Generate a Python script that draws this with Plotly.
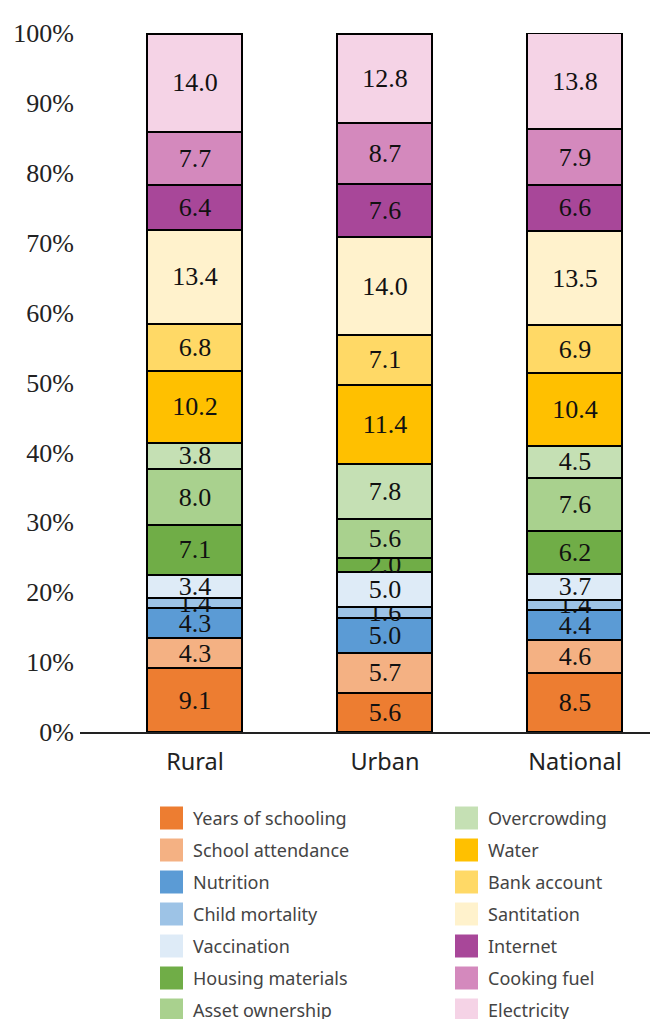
import plotly.graph_objects as go

areas = ['Rural', 'Urban', 'National']

indicators = ['Years of schooling', 'School attendance', 'Nutrition', 'Child mortality',
              'Vaccination', 'Housing materials', 'Asset ownership', 'Overcrowding',
              'Water', 'Bank account', 'Santitation', 'Internet', 'Cooking fuel', 'Electricity']

rural = [9.1, 4.3, 4.3, 1.4, 3.4, 7.1, 8.0, 3.8, 10.2, 6.8, 13.4, 6.4, 7.7, 14.0]
urban = [5.6, 5.7, 5.0, 1.6, 5.0, 2.0, 5.6, 7.8, 11.4, 7.1, 14.0, 7.6, 8.7, 12.8]
national = [8.5, 4.6, 4.4, 1.4, 3.7, 6.2, 7.6, 4.5, 10.4, 6.9, 13.5, 6.6, 7.9, 13.8]

y_ticks = [0, 10, 20, 30, 40, 50, 60, 70, 80, 90, 100]
y_tick_labels = ['0%', '10%', '20%', '30%', '40%', '50%', '60%', '70%', '80%', '90%', '100%']

colors = ['#ED7D31', '#F4B183', '#5B9BD5', '#9DC3E6', '#DEEBF7', '#70AD47', '#A9D18E',
          '#C5E0B4', '#FFC000', '#FFD966', '#FFF2CC', '#A84799', '#D489BD', '#F5D3E6']

fig = go.Figure()
for i, name in enumerate(indicators):
    vals = [rural[i], urban[i], national[i]]
    fig.add_trace(go.Bar(
        x=areas, y=vals, name=name,
        marker=dict(color=colors[i], line=dict(color='black', width=2)),
        text=['%.1f' % v for v in vals],
        textposition='inside', insidetextanchor='middle', constraintext='none',
        textfont=dict(family='Liberation Serif', size=26, color='#111111'),
        showlegend=False,
    ))

# page body has an 8px margin, so everything is shifted by 8
OFF = 8
L, T, W, H = 80 - OFF, 33 - OFF, 578, 699
FW, FH = 658 - OFF, 1019 - OFF

def px(x):
    return (x - OFF - L) / W

def py(y):
    return (T + H - (y - OFF)) / H

# legend drawn by hand: two columns of seven
shapes = []
annotations = []
for i, name in enumerate(indicators):
    col, row = divmod(i, 7)
    x0 = 160 + col * 295
    yc = 818 + row * 32
    shapes.append(dict(type='rect', xref='paper', yref='paper',
                       x0=px(x0), x1=px(x0 + 23), y0=py(yc + 11.5), y1=py(yc - 11.5),
                       fillcolor=colors[i], line=dict(width=0)))
    annotations.append(dict(xref='paper', yref='paper', x=px(x0 + 31), y=py(yc),
                            xanchor='left', yanchor='middle', showarrow=False, text=name,
                            font=dict(family='Noto Sans', size=18, color='#444444')))

fig.update_layout(
    barmode='stack', bargap=0.5,
    width=FW, height=FH,
    margin=dict(l=L, r=0, t=T, b=FH - T - H),
    plot_bgcolor='white', paper_bgcolor='white',
    shapes=shapes, annotations=annotations,
    xaxis=dict(range=[-0.605, 2.437], showline=True, linecolor='#222222', linewidth=2,
               tickfont=dict(family='Noto Sans', size=23.5, color='#222222'), ticks='',
               ticklabelstandoff=8),
    yaxis=dict(range=[0, 100], tickmode='array', tickvals=y_ticks, ticktext=y_tick_labels,
               showgrid=False, zeroline=False, ticklabelstandoff=5,
               tickfont=dict(family='Liberation Serif', size=26, color='#222222')),
)

fig.write_html('out.html')
